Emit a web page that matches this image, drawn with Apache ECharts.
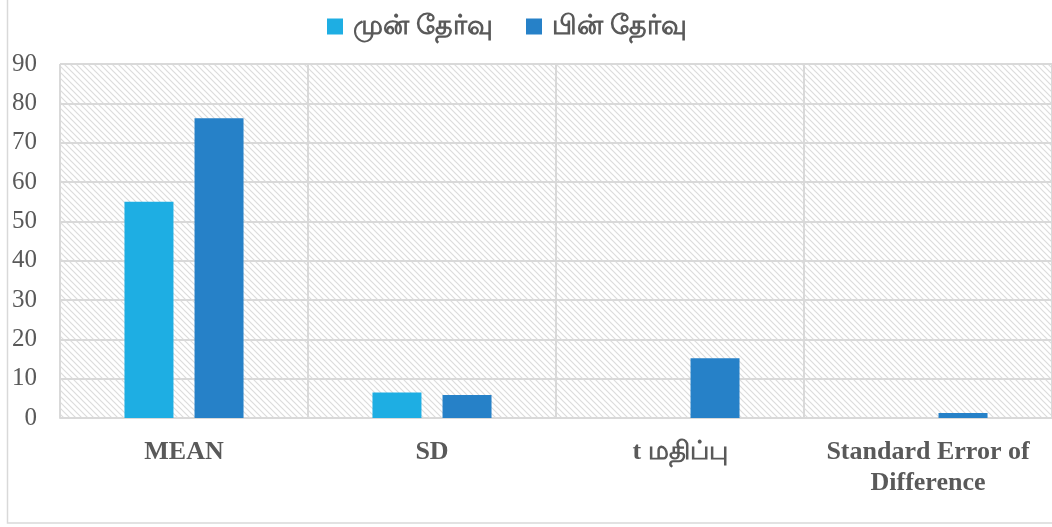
<!DOCTYPE html>
<html><head><meta charset="utf-8">
<script src="https://cdn.jsdelivr.net/npm/echarts@6/dist/echarts.min.js"></script>
<style>html,body{margin:0;padding:0;background:#fff}#c{width:1052px;height:527px}</style>
</head><body><div id="c"></div>
<script>
const categories = ['MEAN', 'SD', 't மதிப்பு', 'Standard Error of\nDifference'];
const seriesNames = ['முன் தேர்வு', 'பின் தேர்வு'];
const preTest = [55, 6.5, null, null];
const postTest = [76.2, 5.85, 15.2, 1.3];
const yTicks = [0, 10, 20, 30, 40, 50, 60, 70, 80, 90];

const pc = document.createElement('canvas');
pc.width = 6; pc.height = 6;
const g = pc.getContext('2d');
g.fillStyle = '#ffffff'; g.fillRect(0,0,6,6);
g.strokeStyle = '#dcdcdc'; g.lineWidth = 1.2;
g.beginPath(); g.moveTo(-1,-1); g.lineTo(7,7); g.stroke();
g.beginPath(); g.moveTo(-1,5); g.lineTo(1,7); g.stroke();
g.beginPath(); g.moveTo(5,-1); g.lineTo(7,1); g.stroke();

const chart = echarts.init(document.getElementById('c'), null, {renderer:'canvas'});
chart.setOption({
  animation: false,
  graphic: [{type:'rect', shape:{x:7.5, y:-5, width:1060, height:528}, style:{fill:null, stroke:'#d9d9d9', lineWidth:1.5}, z:-10}],
  legend: {
    top: 8, left: 322, itemWidth: 16, itemHeight: 16, itemGap: 33,
    icon: 'rect',
    textStyle: {fontSize: 27, color: '#595959', fontWeight: 'bold', fontFamily: 'Noto Sans, sans-serif', padding: [0,0,0,5]},
    data: seriesNames
  },
  grid: {left: 60, right: -4, top: 64, bottom: 109, show: true, borderWidth: 0,
         backgroundColor: {image: pc, repeat: 'repeat'}},
  xAxis: {
    type: 'category', data: categories,
    axisLine: {lineStyle: {color: '#d9d9d9', width: 2}},
    axisTick: {show: false},
    splitLine: {show: true, interval: 0, lineStyle: {color: '#d9d9d9', width: 2}},
    axisLabel: {interval: 0, fontSize: 26, fontWeight: 'bold', color: '#595959', fontFamily: 'Liberation Serif, serif', margin: 19, lineHeight: 31}
  },
  yAxis: {
    type: 'value', min: 0, max: 90, interval: 10,
    axisLine: {show: false}, axisTick: {show: false},
    splitLine: {lineStyle: {color: '#d9d9d9', width: 2}},
    axisLabel: {fontSize: 25, color: '#595959', fontFamily: 'Liberation Serif, serif', margin: 23,
      formatter: v => yTicks.includes(v) ? String(v) : ''}
  },
  series: [
    {name: seriesNames[0], type: 'bar', data: preTest, barWidth: 49, barGap: '43%', itemStyle: {color: '#1EAEE3'}},
    {name: seriesNames[1], type: 'bar', data: postTest, barWidth: 49, barGap: '43%', itemStyle: {color: '#2681C8'}}
  ]
});
</script></body></html>
